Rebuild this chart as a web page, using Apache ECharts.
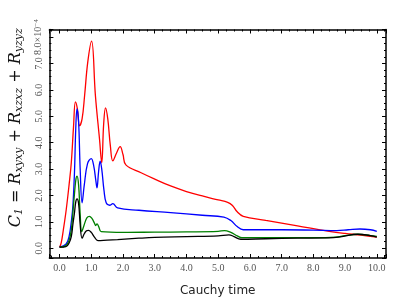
<!DOCTYPE html>
<html><head><meta charset="utf-8">
<script src="https://cdn.jsdelivr.net/npm/echarts@6/dist/echarts.min.js"></script>
<style>html,body{margin:0;padding:0;background:#fff}#c{width:407px;height:305px}</style>
</head><body><div id="c"></div>
<script>
// values in units of 1e-4
const red = [[0,0.04],[0.05,0.19],[0.12,0.7],[0.21,1.46],[0.3,2.4],[0.37,3.24],[0.44,4.6],[0.5,5.55],[0.56,5.3],[0.63,4.64],[0.71,4.9],[0.79,5.79],[0.89,7.06],[1.01,7.85],[1.13,5.79],[1.26,4.13],[1.33,3.24],[1.39,4.7],[1.45,5.32],[1.52,4.9],[1.6,3.9],[1.68,3.31],[1.8,3.62],[1.91,3.85],[2.0,3.55],[2.09,3.16],[2.57,2.86],[3.0,2.62],[3.5,2.36],[4.0,2.15],[4.5,1.98],[5.0,1.83],[5.3,1.74],[5.45,1.62],[5.6,1.38],[5.79,1.21],[6.5,1.06],[7.5,0.85],[8.5,0.64],[9.0,0.56],[9.5,0.5],[10.0,0.42]];
const blue = [[0,0.04],[0.2,0.15],[0.3,0.45],[0.38,1.1],[0.42,1.6],[0.47,2.86],[0.51,4.5],[0.55,5.28],[0.6,4.8],[0.65,3.0],[0.71,1.72],[0.78,2.4],[0.88,3.2],[1.0,3.4],[1.08,3.1],[1.14,2.6],[1.18,2.29],[1.23,2.9],[1.28,3.3],[1.33,3.0],[1.4,2.2],[1.47,1.72],[1.58,1.63],[1.68,1.69],[1.83,1.53],[2.5,1.44],[3.5,1.35],[4.5,1.25],[5.18,1.18],[5.4,1.05],[5.6,0.82],[5.79,0.70],[7.0,0.70],[8.0,0.69],[8.74,0.67],[9.1,0.70],[9.47,0.73],[9.8,0.70],[10.0,0.64]];
const green = [[0,0.04],[0.2,0.1],[0.3,0.3],[0.37,0.7],[0.42,1.34],[0.48,2.2],[0.52,2.65],[0.55,2.73],[0.6,2.4],[0.65,1.3],[0.70,0.63],[0.78,0.9],[0.86,1.15],[0.94,1.21],[1.02,1.13],[1.1,0.95],[1.14,0.86],[1.18,0.92],[1.24,0.8],[1.31,0.63],[2.0,0.6],[3.0,0.61],[4.0,0.62],[5.0,0.64],[5.2,0.67],[5.4,0.6],[5.6,0.47],[5.75,0.4],[7.0,0.4],[8.0,0.4],[8.7,0.42],[9.0,0.48],[9.4,0.53],[9.8,0.48],[10.0,0.45]];
const black = [[0,0.04],[0.2,0.06],[0.3,0.2],[0.37,0.44],[0.42,0.9],[0.47,1.34],[0.51,1.75],[0.55,1.87],[0.6,1.7],[0.65,0.9],[0.71,0.38],[0.78,0.55],[0.85,0.66],[0.91,0.68],[1.0,0.6],[1.1,0.42],[1.21,0.29],[1.5,0.31],[1.83,0.33],[2.5,0.38],[3.0,0.41],[4.0,0.44],[5.0,0.47],[5.34,0.51],[5.5,0.44],[5.71,0.34],[6.5,0.36],[7.5,0.38],[8.5,0.39],[8.9,0.44],[9.4,0.53],[9.8,0.48],[10.0,0.42]];
const xName = 'Cauchy time';
const yExpText = '8.0×10';

const serif = 'Liberation Serif';
const chart = echarts.init(document.getElementById('c'), null, {renderer:'canvas'});
const tickFmt = v => (Math.abs(v - Math.round(v)) < 1e-6) ? Math.round(v).toFixed(1) : '';
const axisCommon = {
  type:'value', splitLine:{show:false},
  axisLine:{show:true, onZero:false, lineStyle:{color:'#000', width:1.5}},
  axisTick:{show:true, inside:true, length:4, lineStyle:{color:'#000', width:1}},
  minorTick:{show:true, splitNumber:4, length:2, lineStyle:{color:'#000', width:1}},
  minInterval:1, maxInterval:1
};
function mk(name, data, color){
  return {name, type:'line', data, showSymbol:false, smooth:0.4,
    lineStyle:{color, width:1.3}, itemStyle:{color}, z: 2, animation:false};
}
chart.setOption({
  animation:false,
  grid:{left:48, right:21, top:29.5, bottom:47},
  xAxis:[
    Object.assign({}, axisCommon, {min:-0.32, max:10.29, splitNumber:10,
      name:xName, nameLocation:'middle', nameGap:27,
      nameTextStyle:{fontFamily:'DejaVu Sans', fontSize:12, color:'#222'},
      axisLabel:{fontFamily:serif, fontSize:10, color:'#555', margin:5, formatter:tickFmt, showMinLabel:false, showMaxLabel:false}}),
    Object.assign({}, axisCommon, {position:'top', min:-0.32, max:10.29, splitNumber:10, axisLabel:{show:false}})
  ],
  yAxis:[
    Object.assign({}, axisCommon, {min:-0.37, max:8.29, splitNumber:8,
      name:'{i|C}{s|1}{n| = }{i|R}{s|xyxy}{n| + }{i|R}{s|xzxz}{n| + }{i|R}{s|yzyz}',
      nameLocation:'middle', nameGap:22, nameRotate:90,
      nameTextStyle:{padding:[0,0,0,32], rich:{
        i:{fontFamily:'DejaVu Serif', fontStyle:'italic', fontSize:16, color:'#111'},
        n:{fontFamily:'DejaVu Serif', fontSize:16, color:'#111'},
        s:{fontFamily:'DejaVu Serif', fontStyle:'italic', fontSize:11, color:'#111', verticalAlign:'bottom', padding:[6,0,0,0]}
      }},
      axisLabel:{fontFamily:serif, fontSize:10, color:'#555', margin:5, rotate:90,
        showMinLabel:false, showMaxLabel:false,
        formatter: v => {
          if (Math.abs(v-8) < 1e-6) return '{a|' + yExpText + '}{p|−4}';
          return tickFmt(v);
        },
        rich:{a:{fontFamily:serif, fontSize:10, color:'#555'}, p:{fontFamily:serif, fontSize:7, color:'#555', verticalAlign:'top', padding:[0,0,5,0]}}
      }}),
    Object.assign({}, axisCommon, {position:'right', min:-0.37, max:8.29, splitNumber:8, axisLabel:{show:false}})
  ],
  series:[ mk('red', red, '#ff0000'), mk('blue', blue, '#0000ff'), mk('green', green, '#008000'), mk('black', black, '#000000') ]
});
</script></body></html>
